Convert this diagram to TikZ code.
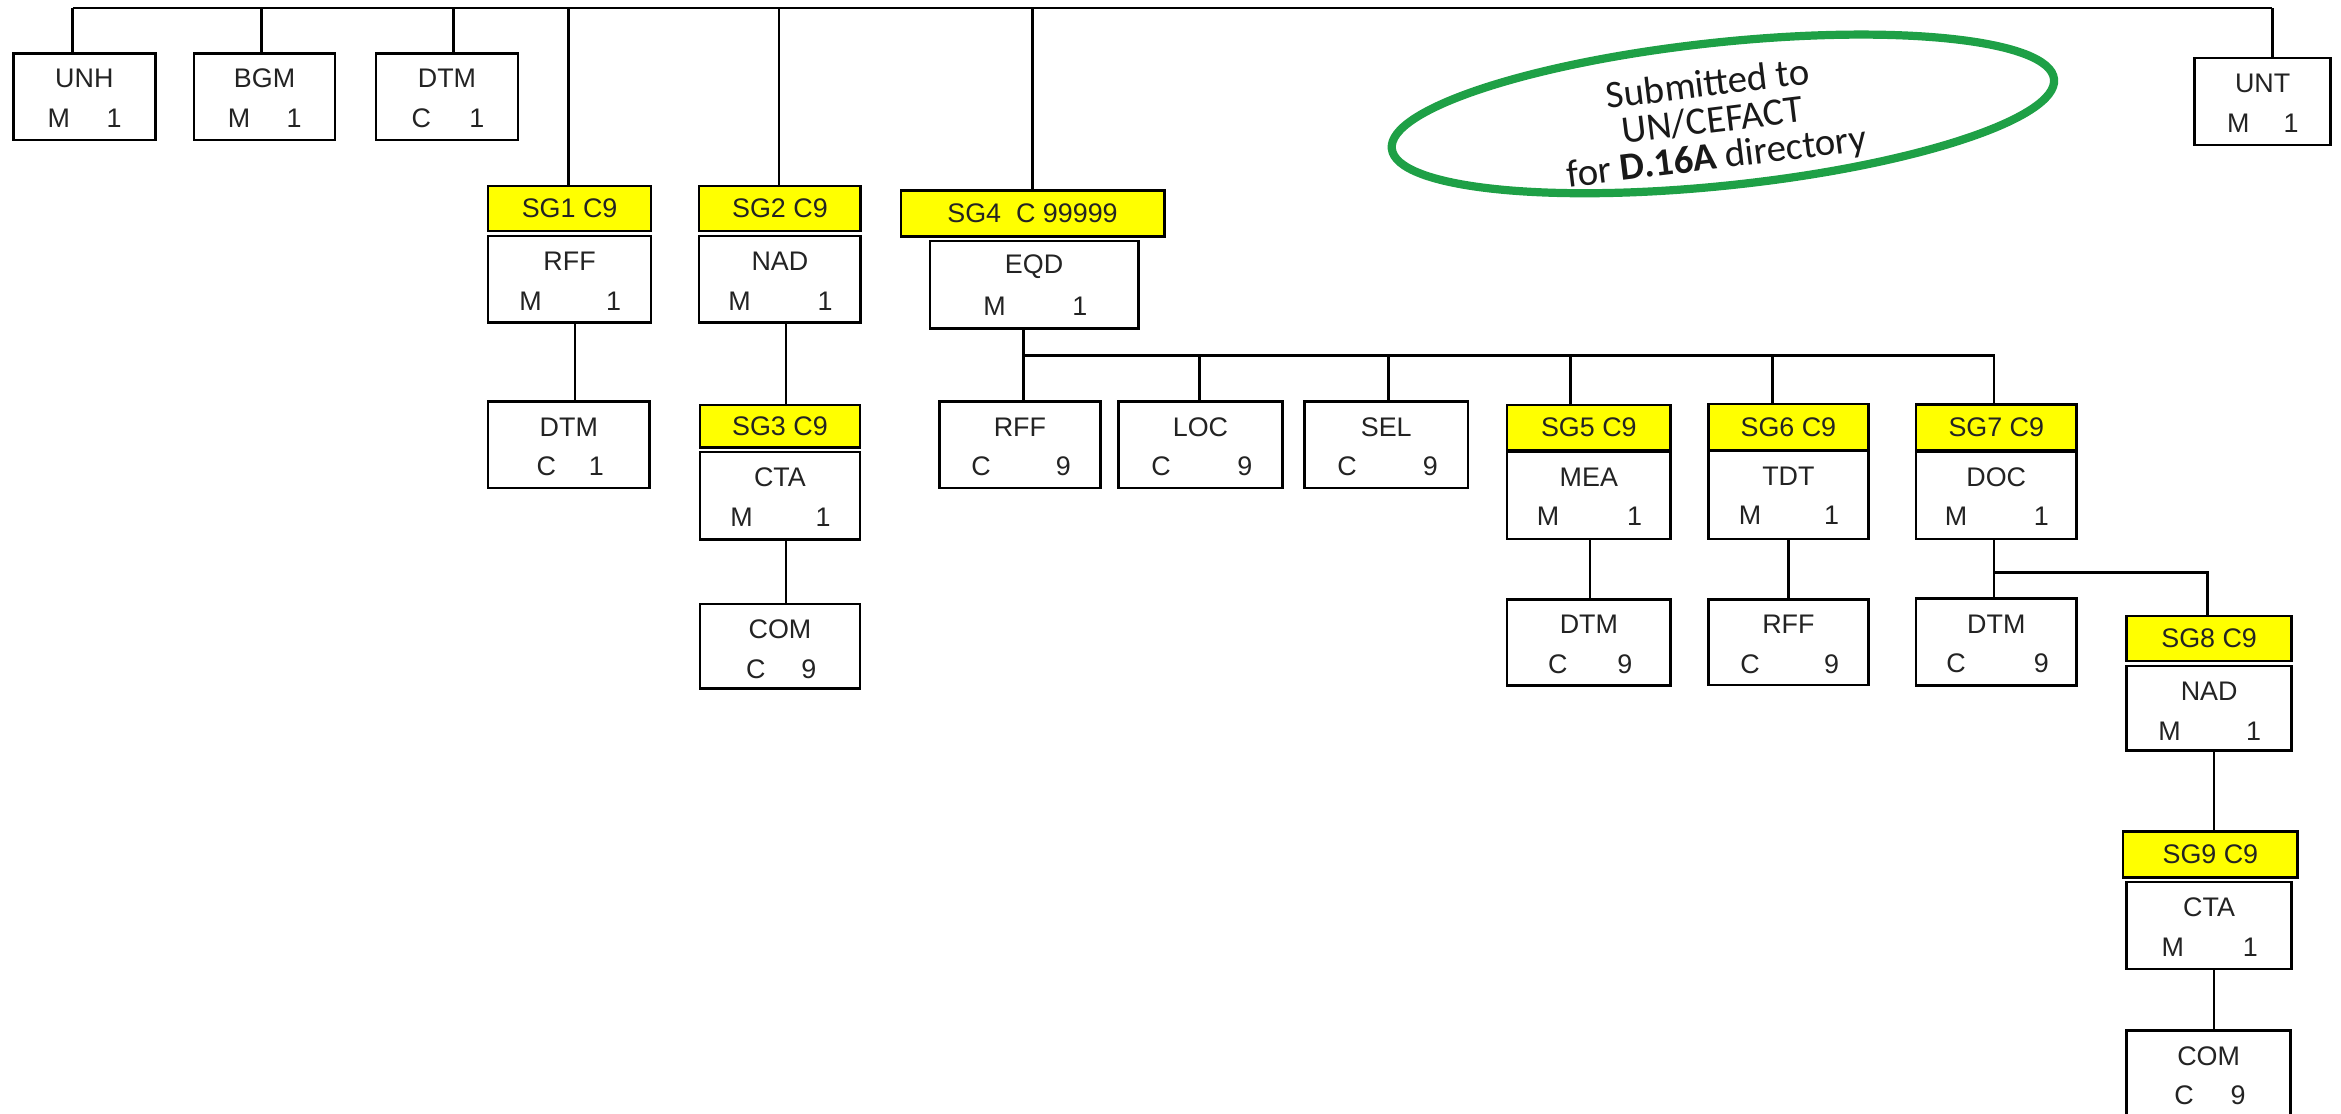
\documentclass[tikz,border=0pt]{standalone}
\usepackage{fontspec}
\setmainfont{Liberation Sans}
\newfontfamily\calib{Carlito}
\usetikzlibrary{shapes.geometric,calc}
\definecolor{ovalgreen}{RGB}{30,160,70}
\definecolor{sgyellow}{RGB}{255,255,0}
\definecolor{txt}{RGB}{35,35,35}

\tikzset{
 segframe/.style={draw, line width=1.7pt, fill=white, inner sep=0pt, rectangle},
 sgframe/.style={draw, line width=1.7pt, fill=sgyellow, inner sep=0pt, rectangle, text=txt, font=\fontsize{18}{20}\selectfont},
 segtext/.style={inner sep=0pt, text=txt, font=\fontsize{18}{20}\selectfont},
 link/.style={line width=1.7pt},
}

\newcommand\segbox[9]{%
 \pgfmathsetmacro\sbxc{(#2+#3)/2}%
 \pgfmathsetmacro\sbyc{(#4+#5)/2}%
 \pgfmathsetmacro\sbw{#3-#2}%
 \pgfmathsetmacro\sbh{#5-#4}%
 \pgfmathsetmacro\sbl{#2+#9*\sbw}%
 \pgfmathsetmacro\sbr{#3-(#9-0.03)*\sbw}%
 \pgfmathsetmacro\sbta{#4+17}%
 \pgfmathsetmacro\sbtb{#4+43.5}%
 \node[segframe, minimum width=\sbw pt, minimum height=\sbh pt] (#1) at (\sbxc,\sbyc) {};
 \node[segtext] (#1-n) at (\sbxc,\sbta) {#6};
 \node[segtext] (#1-l) at (\sbl,\sbtb) {#7};
 \node[segtext] (#1-r) at (\sbr,\sbtb) {#8};
}
\newcommand\sgbox[6]{%
 \pgfmathsetmacro\sbxc{(#2+#3)/2}%
 \pgfmathsetmacro\sbyc{(#4+#5)/2}%
 \pgfmathsetmacro\sbw{#3-#2}%
 \pgfmathsetmacro\sbh{#5-#4}%
 \node[sgframe, minimum width=\sbw pt, minimum height=\sbh pt] (#1) at (\sbxc,\sbyc) {#6};
}

\begin{document}
\begin{tikzpicture}[x=1pt,y=-1pt]
\useasboundingbox (0,0) rectangle (1568,746);
\clip (0,0) rectangle (1568,746);

% top row
\segbox{unh}{9}{104}{35.7}{93.8}{UNH}{M}{1}{0.32}
\segbox{bgm}{130}{224.4}{35.7}{93.8}{BGM}{M}{1}{0.32}
\segbox{dtma}{251.8}{347}{35.7}{93.8}{DTM}{C}{1}{0.32}
\segbox{unt}{1470}{1561}{39}{97}{UNT}{M}{1}{0.32}

% SG1
\sgbox{sg1}{327}{436}{124.6}{154.7}{SG1 C9}
\segbox{rffa}{327}{436}{158}{216}{RFF}{M}{1}{0.26}
\segbox{dtmb}{327}{435}{269}{327}{DTM}{C}{1}{0.36}

% SG2 / SG3
\sgbox{sg2}{468.3}{576.5}{124.6}{154.7}{SG2 C9}
\segbox{nada}{468.3}{576.5}{158}{216}{NAD}{M}{1}{0.25}
\sgbox{sg3}{468.8}{576}{271.2}{299.6}{SG3 C9}
\segbox{ctaa}{468.8}{576}{302.9}{361.2}{CTA}{M}{1}{0.26}
\segbox{coma}{468.8}{576}{404.5}{461}{COM}{C}{9}{0.35}

% SG4
\sgbox{sg4}{603.4}{779.8}{127.7}{158.5}{SG4\ \ C 99999}
\segbox{eqd}{622.8}{762.4}{161.4}{219.9}{EQD}{M}{1}{0.31}

% second level under EQD
\segbox{rffb}{629.1}{737.1}{269}{327}{RFF}{C}{9}{0.26}
\segbox{loc}{749.1}{859.1}{269}{327}{LOC}{C}{9}{0.26}
\segbox{sel}{873.8}{983.2}{269}{327}{SEL}{C}{9}{0.26}
\sgbox{sg5}{1009.5}{1118.9}{271.2}{301.4}{SG5 C9}
\segbox{mea}{1009.5}{1118.9}{302.5}{361}{MEA}{M}{1}{0.25}
\segbox{dtmc}{1009.5}{1118.9}{401.4}{459.2}{DTM}{C}{9}{0.31}
\sgbox{sg6}{1144.3}{1251.4}{270.6}{301.8}{SG6 C9}
\segbox{tdt}{1144.3}{1251.4}{301.8}{361}{TDT}{M}{1}{0.26}
\segbox{rffc}{1144.3}{1251.4}{401.4}{458.7}{RFF}{C}{9}{0.26}
\sgbox{sg7}{1283.3}{1390.9}{270.8}{301.4}{SG7 C9}
\segbox{doc}{1283.3}{1390.9}{302.5}{361}{DOC}{M}{1}{0.25}
\segbox{dtmd}{1283.3}{1390.9}{401}{459}{DTM}{C}{9}{0.25}
\sgbox{sg8}{1424.4}{1534.9}{412.5}{442.6}{SG8 C9}
\segbox{nadb}{1424.4}{1534.9}{446}{502.7}{NAD}{M}{1}{0.26}
\sgbox{sg9}{1422}{1539}{557}{587.8}{SG9 C9}
\segbox{ctab}{1424.4}{1534.9}{590.9}{649}{CTA}{M}{1}{0.28}
\segbox{comb}{1424.4}{1534.3}{690.4}{748.5}{COM}{C}{9}{0.35}

% connectors: top bar
\coordinate (bar-l) at (48.7,5.5);
\coordinate (bar-r) at (1522,5.5);
\coordinate (x-bgm) at (175.3,5.5);
\coordinate (x-dtma) at (303.6,5.5);
\coordinate (x-sg1) at (380.6,5.5);
\coordinate (x-sg2) at (521.8,5.5);
\coordinate (x-sg4) at (691.6,5.5);
\draw[link] (bar-l) -- (bar-r);
\draw[link] (bar-l) -- (bar-l |- unh.north);
\draw[link] (x-bgm) -- (x-bgm |- bgm.north);
\draw[link] (x-dtma) -- (x-dtma |- dtma.north);
\draw[link] (x-sg1) -- (x-sg1 |- sg1.north);
\draw[link] (x-sg2) -- (x-sg2 |- sg2.north);
\draw[link] (x-sg4) -- (x-sg4 |- sg4.north);
\draw[link] (bar-r) -- (bar-r |- unt.north);

% SG1, SG2 chains
\coordinate (k-rffa) at (385,0);
\draw[link] (k-rffa |- rffa.south) -- (k-rffa |- dtmb.north);
\coordinate (k-nada) at (526.4,0);
\draw[link] (k-nada |- nada.south) -- (k-nada |- sg3.north);
\draw[link] (k-nada |- ctaa.south) -- (k-nada |- coma.north);

% EQD branch
\coordinate (eqd-bar) at (685.6,238.2);
\coordinate (eqd-end) at (1335.5,238.2);
\coordinate (k-loc) at (803.4,238.2);
\coordinate (k-sel) at (929.9,238.2);
\coordinate (k-sg5) at (1052,238.2);
\coordinate (k-sg6) at (1187.1,238.2);
\draw[link] (eqd-bar |- eqd.south) -- (eqd-bar) -- (eqd-end) -- (eqd-end |- sg7.north);
\draw[link] (eqd-bar) -- (eqd-bar |- rffb.north);
\draw[link] (k-loc) -- (k-loc |- loc.north);
\draw[link] (k-sel) -- (k-sel |- sel.north);
\draw[link] (k-sg5) -- (k-sg5 |- sg5.north);
\draw[link] (k-sg6) -- (k-sg6 |- sg6.north);

\coordinate (k-mea) at (1064.9,0);
\draw[link] (k-mea |- mea.south) -- (k-mea |- dtmc.north);
\coordinate (k-tdt) at (1197.8,0);
\draw[link] (k-tdt |- tdt.south) -- (k-tdt |- rffc.north);

% DOC branch
\coordinate (doc-bar) at (1335.5,383.3);
\coordinate (doc-end) at (1478.6,383.3);
\draw[link] (doc-bar |- doc.south) -- (doc-bar |- dtmd.north);
\draw[link] (doc-bar) -- (doc-end) -- (doc-end |- sg8.north);
\coordinate (k-nadb) at (1483,0);
\draw[link] (k-nadb |- nadb.south) -- (k-nadb |- sg9.north);
\draw[link] (k-nadb |- ctab.south) -- (k-nadb |- comb.north);

% note
\node[draw=ovalgreen, line width=5.5pt, ellipse, rotate=6, minimum width=446pt, minimum height=96pt, inner sep=0pt] (oval) at (1154,76.3) {};
\node[rotate=7, align=center, font=\calib\fontsize{26}{24.5}\selectfont, text=black!90, inner sep=0pt] (note) at (1147,82) {Submitted to\\UN/CEFACT\\for \textbf{D.16A} directory};
\end{tikzpicture}
\end{document}
